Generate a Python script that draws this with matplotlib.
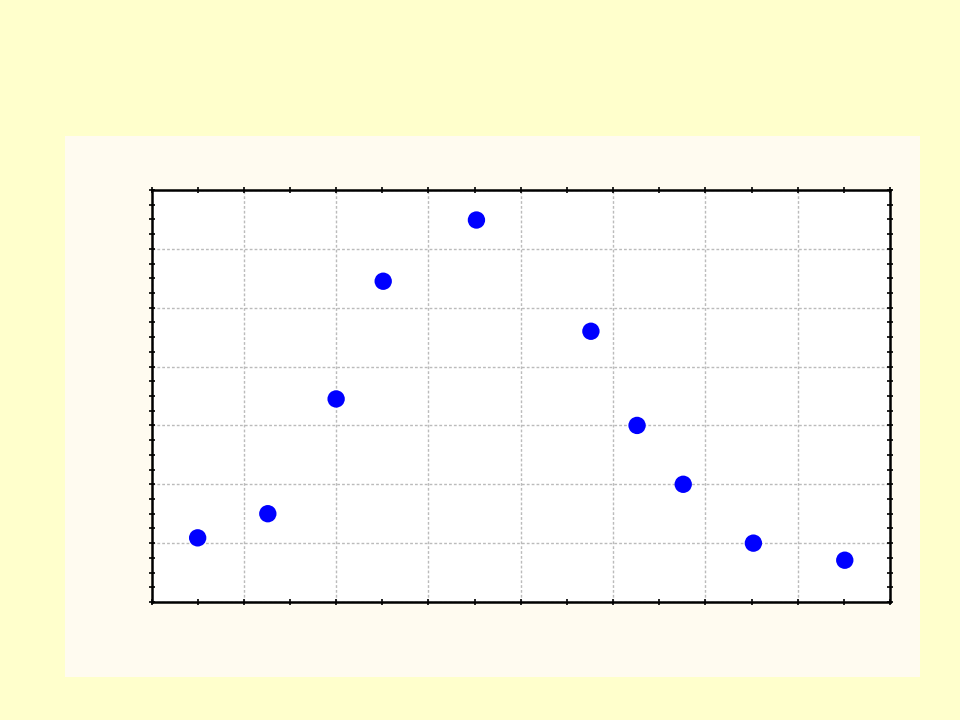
import matplotlib
matplotlib.use("Agg")
import matplotlib.pyplot as plt
from matplotlib.ticker import MultipleLocator, NullFormatter

x_vals = [0.5, 1.26, 2.0, 2.51, 3.52, 4.76, 5.26, 5.76, 6.52, 7.51]
y_vals = [1.09, 1.5, 3.45, 5.45, 6.49, 4.6, 3.0, 2.0, 1.0, 0.71]

fig = plt.figure(figsize=(9.6, 7.2), dpi=100)
fig.patch.set_facecolor("#FFFFCC")

bg = fig.add_axes([65/960, 1-677/720, (920-65)/960, (677-136)/720], zorder=-5)
bg.set_facecolor("#FFFBF0")
bg.set_xticks([])
bg.set_yticks([])
for s in bg.spines.values():
    s.set_visible(False)

ax = fig.add_axes([151.5/960, 1-602/720, (890-151.5)/960, (602-190)/720], zorder=1)
ax.set_facecolor("white")
ax.scatter(x_vals, y_vals, s=12.5**2, color="#0000FF", zorder=3, edgecolors="none")
ax.set_xlim(0, 8)
ax.set_ylim(0, 7)
ax.xaxis.set_major_locator(MultipleLocator(1))
ax.xaxis.set_minor_locator(MultipleLocator(0.5))
ax.yaxis.set_major_locator(MultipleLocator(1))
ax.yaxis.set_minor_locator(MultipleLocator(0.25))
ax.xaxis.set_major_formatter(NullFormatter())
ax.yaxis.set_major_formatter(NullFormatter())
ax.grid(True, which="major", color="#BBBBBB", linestyle=(0, (2, 1.5)), linewidth=1)
ax.tick_params(which="both", direction="inout", length=5, width=1.2,
               top=True, right=True, color="black")
for s in ax.spines.values():
    s.set_linewidth(1.8)
    s.set_color("black")

fig.savefig("out.png", dpi=100, facecolor=fig.get_facecolor())
